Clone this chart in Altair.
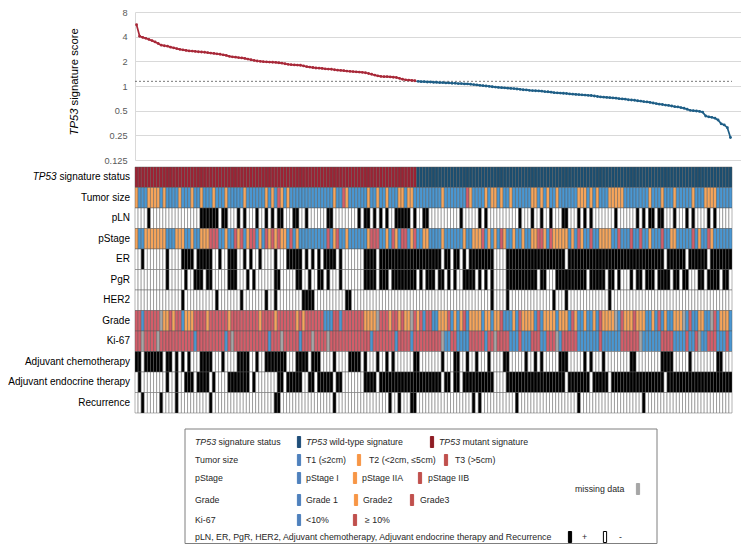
import altair as alt
import pandas as pd

# ---------------- data ----------------
N = 193
N_MUT = 91
THRESHOLD = 1.14

SCORES_MUT = [
    5.60, 4.05, 3.92, 3.82, 3.70, 3.58, 3.45, 3.30, 3.15, 3.10,
    3.06, 2.98, 2.92, 2.86, 2.80, 2.76, 2.72, 2.68, 2.67, 2.64,
    2.62, 2.60, 2.58, 2.55, 2.52, 2.50, 2.47, 2.44, 2.40, 2.36,
    2.30, 2.27, 2.25, 2.22, 2.20, 2.17, 2.13, 2.09, 2.05, 2.02,
    2.00, 1.98, 1.97, 1.96, 1.95, 1.94, 1.92, 1.90, 1.87, 1.84,
    1.82, 1.81, 1.80, 1.79, 1.76, 1.72, 1.70, 1.68, 1.66, 1.65,
    1.64, 1.62, 1.61, 1.60, 1.58, 1.56, 1.55, 1.54, 1.52, 1.51,
    1.50, 1.49, 1.48, 1.47, 1.45, 1.42, 1.39, 1.36, 1.33, 1.31,
    1.30, 1.30, 1.29, 1.28, 1.27, 1.24, 1.21, 1.19, 1.18, 1.17,
    1.16,
]
SCORES_WT = [
    1.14, 1.13, 1.13, 1.12, 1.12, 1.11, 1.11, 1.10, 1.10, 1.09,
    1.09, 1.08, 1.08, 1.07, 1.07, 1.06, 1.06, 1.05, 1.04, 1.03,
    1.02, 1.01, 1.00, 0.99, 0.98, 0.97, 0.96, 0.955, 0.95, 0.94,
    0.935, 0.93, 0.92, 0.91, 0.90, 0.895, 0.885, 0.88, 0.875, 0.87,
    0.865, 0.855, 0.85, 0.84, 0.83, 0.825, 0.82, 0.815, 0.81, 0.80,
    0.795, 0.79, 0.785, 0.78, 0.775, 0.77, 0.765, 0.755, 0.745, 0.735,
    0.73, 0.725, 0.72, 0.715, 0.71, 0.70, 0.695, 0.69, 0.68, 0.675,
    0.67, 0.66, 0.655, 0.645, 0.64, 0.63, 0.62, 0.61, 0.60, 0.595,
    0.585, 0.58, 0.57, 0.56, 0.555, 0.545, 0.535, 0.52, 0.505, 0.50,
    0.495, 0.49, 0.48, 0.43, 0.42, 0.415, 0.405, 0.385, 0.345, 0.335,
    0.31, 0.235,
]
Y_TICKS = [0.125, 0.25, 0.5, 1, 2, 4, 8]

ROWS = ["TP53 signature status", "Tumor size", "pLN", "pStage", "ER", "PgR",
        "HER2", "Grade", "Ki-67", "Adjuvant chemotherapy",
        "Adjuvant endocrine therapy", "Recurrence"]

# column spans (first, last) per category
STATUS_MUT = [(0, 90)]
TUMOR_T2 = [(0, 0), (4, 4), (5, 7), (9, 9), (14, 14), (18, 18), (21, 21), (25, 25), (29, 29),
            (35, 35), (42, 42), (44, 44), (47, 47), (49, 49), (64, 64), (68, 68), (75, 75),
            (78, 78), (81, 81), (85, 86), (88, 89), (99, 99), (108, 108), (113, 113),
            (115, 116), (118, 118), (121, 121), (128, 129), (131, 131), (133, 133), (136, 136),
            (143, 145), (147, 147), (149, 149), (153, 157), (166, 166), (170, 170), (174, 174),
            (180, 180), (184, 187)]
TUMOR_T3 = [(46, 46), (67, 67), (107, 107)]
PLN_POS = [(4, 4), (21, 26), (28, 29), (33, 33), (35, 35), (39, 39), (42, 42), (44, 44),
           (46, 47), (51, 52), (55, 55), (62, 63), (72, 72), (74, 75), (77, 77), (79, 79),
           (81, 81), (84, 88), (90, 90), (93, 94), (105, 105), (111, 111), (113, 113),
           (124, 124), (128, 128), (131, 131), (134, 134), (138, 139), (143, 143), (145, 145),
           (147, 147), (155, 155), (162, 162), (164, 164), (166, 167), (169, 170), (174, 174),
           (178, 178), (180, 180), (185, 185), (187, 187)]
PSTAGE_IIA = [(0, 0), (3, 9), (13, 15), (18, 18), (21, 23), (29, 29), (33, 33), (36, 36),
              (40, 40), (43, 43), (45, 45), (47, 48), (52, 52), (64, 64), (68, 68), (75, 75),
              (81, 81), (84, 84), (89, 89), (93, 94), (99, 99), (106, 106), (109, 111),
              (114, 114), (116, 116), (119, 119), (122, 122), (125, 125), (128, 129),
              (132, 132), (135, 139), (141, 141), (144, 144), (150, 153), (166, 166),
              (173, 174), (182, 182), (186, 186)]
PSTAGE_IIB = [(24, 26), (32, 32), (34, 34), (37, 38), (42, 42), (44, 44), (46, 46), (50, 50),
              (62, 62), (65, 65), (76, 78), (83, 83), (86, 87), (90, 90), (112, 112),
              (118, 118), (130, 131), (134, 134), (143, 143), (147, 147), (156, 156),
              (160, 160), (163, 163), (170, 170), (180, 180), (185, 185)]
ER_POS = [(2, 2), (10, 10), (15, 18), (20, 24), (27, 27), (30, 32), (35, 35), (37, 37),
          (40, 40), (45, 45), (49, 53), (55, 55), (57, 57), (59, 59), (61, 64), (66, 66),
          (74, 77), (79, 98), (100, 101), (103, 104), (106, 106), (108, 115), (120, 138),
          (140, 170), (172, 177), (179, 184), (186, 192)]
PGR_POS = [(10, 10), (16, 16), (19, 21), (23, 24), (30, 32), (36, 36), (38, 38), (45, 46),
           (52, 53), (56, 56), (59, 60), (62, 62), (66, 66), (74, 77), (79, 81), (83, 90),
           (92, 92), (94, 96), (98, 99), (101, 101), (103, 103), (106, 109), (111, 111),
           (113, 113), (115, 115), (120, 129), (131, 132), (136, 145), (147, 151),
           (153, 154), (156, 156), (160, 160), (162, 163), (165, 167), (169, 172),
           (174, 175), (177, 178), (182, 183), (185, 188), (190, 191)]
HER2_POS = [(15, 15), (26, 26), (34, 34), (42, 42), (45, 45), (54, 57), (68, 69), (115, 115),
            (120, 120), (135, 135), (139, 139), (153, 153)]
GRADE_1 = [(2, 2), (15, 15), (61, 63), (66, 66), (93, 93), (96, 192)]
GRADE_2 = [(9, 10), (12, 12), (16, 18), (23, 23), (30, 30), (40, 40), (45, 45), (52, 52),
           (54, 54), (74, 77), (82, 82), (85, 85), (87, 88), (91, 91), (98, 100), (103, 103),
           (105, 105), (108, 111), (113, 114), (116, 117), (122, 122), (125, 128),
           (132, 135), (137, 139), (142, 142), (145, 145), (148, 148), (151, 154),
           (158, 160), (162, 164), (167, 167), (171, 171), (174, 176), (182, 183), (189, 191)]
GRADE_3 = [(101, 101), (106, 106), (118, 118), (124, 124), (130, 130), (141, 141), (150, 150),
           (157, 157), (161, 161), (169, 169), (179, 179), (187, 187)]
GRADE_NA = [(8, 8), (78, 78), (89, 89), (155, 155), (177, 177), (186, 186)]
KI67_LOW = [(19, 19), (29, 29), (43, 43), (53, 53), (76, 76), (84, 84), (89, 89), (99, 192)]
KI67_HIGH = [(102, 103), (108, 112), (114, 120), (124, 124), (128, 130), (133, 135),
             (138, 142), (150, 150), (157, 163), (170, 173), (178, 178), (181, 181),
             (185, 187), (191, 191)]
KI67_NA = [(2, 2), (7, 7), (31, 31), (47, 47), (57, 57), (62, 62), (99, 99), (116, 116),
           (136, 136), (163, 163), (182, 182)]
CHEMO_POS = [(0, 1), (3, 8), (10, 11), (13, 13), (15, 15), (17, 17), (21, 24), (28, 28),
             (33, 36), (39, 39), (42, 48), (52, 55), (57, 59), (64, 64), (69, 72), (74, 74),
             (78, 78), (81, 81), (83, 83), (90, 91), (99, 99), (103, 104), (107, 107),
             (110, 110), (114, 114), (119, 120), (126, 126), (129, 129), (131, 131),
             (137, 139), (145, 145), (147, 147), (151, 151), (160, 161), (170, 173),
             (179, 179), (188, 189)]
ENDO_POS = [(1, 1), (10, 10), (13, 13), (16, 18), (20, 23), (25, 25), (30, 36), (38, 38),
            (46, 47), (49, 53), (56, 57), (59, 63), (65, 66), (74, 77), (79, 98), (100, 101),
            (103, 104), (106, 115), (120, 138), (140, 146), (148, 152), (154, 170), (172, 192)]
RECUR_POS = [(2, 2), (8, 8), (13, 13), (24, 24), (45, 46), (64, 64), (82, 82), (85, 85),
             (89, 90), (109, 109), (111, 111), (123, 123), (143, 143), (164, 164)]

# ---------------- styling ----------------
FONT = "Liberation Sans"
LINE_RED = "#A82838"
LINE_BLUE = "#1E5E86"
CELL = {"mut": "#9D2233", "wt": "#1B4E70", "c1": "#4A97D2", "c2": "#F6A55B",
        "c3": "#D45E6A", "na": "#A6A6A6", "pos": "#000000", "neg": "#FFFFFF"}

HM_W = 597
LINE_W = 606
LINE_H = 148
HM_H = 246
LEG_H = 130
COLW = HM_W / N
XMAX = -0.5 + LINE_W / COLW
LABEL_GAP = -5


def build(default, layers):
    vals = [default] * N
    for code, spans in layers:
        for a, b in spans:
            for i in range(a, b + 1):
                vals[i] = code
    return vals


row_codes = {
    "TP53 signature status": build("wt", [("mut", STATUS_MUT)]),
    "Tumor size": build("c1", [("c2", TUMOR_T2), ("c3", TUMOR_T3)]),
    "pLN": build("neg", [("pos", PLN_POS)]),
    "pStage": build("c1", [("c2", PSTAGE_IIA), ("c3", PSTAGE_IIB)]),
    "ER": build("neg", [("pos", ER_POS)]),
    "PgR": build("neg", [("pos", PGR_POS)]),
    "HER2": build("neg", [("pos", HER2_POS)]),
    "Grade": build("c3", [("c1", GRADE_1), ("c2", GRADE_2), ("c3", GRADE_3), ("na", GRADE_NA)]),
    "Ki-67": build("c3", [("c1", KI67_LOW), ("c3", KI67_HIGH), ("na", KI67_NA)]),
    "Adjuvant chemotherapy": build("neg", [("pos", CHEMO_POS)]),
    "Adjuvant endocrine therapy": build("neg", [("pos", ENDO_POS)]),
    "Recurrence": build("neg", [("pos", RECUR_POS)]),
}

recs = []
for r in ROWS:
    for i, code in enumerate(row_codes[r]):
        recs.append({"row": r, "x0": i - 0.5, "x1": i + 0.5, "fillc": CELL[code]})
hm_df = pd.DataFrame(recs)

# ---------------- line chart ----------------
mut_df = pd.DataFrame({"idx": list(range(N_MUT)), "score": SCORES_MUT})
wt_df = pd.DataFrame({"idx": list(range(N_MUT, N)), "score": SCORES_WT})

xsc = alt.Scale(domain=[-0.5, XMAX], nice=False, zero=False)
ysc = alt.Scale(type="log", base=2, domain=[0.125, 8], nice=False)
yaxis = alt.Axis(values=Y_TICKS, format="~g", title=None, ticks=False,
                 grid=True, gridColor="#d9d9d9", gridWidth=1,
                 domainColor="#d9d9d9", labelColor="#595959",
                 labelFontSize=9.2, labelPadding=8, labelFont=FONT)


def series(df, col):
    b = alt.Chart(df).encode(
        x=alt.X("idx:Q", scale=xsc, axis=None),
        y=alt.Y("score:Q", scale=ysc, axis=yaxis),
    )
    return [b.mark_line(strokeWidth=1.7, color=col),
            b.mark_circle(size=8, opacity=1, color=col)]


thr = alt.Chart(pd.DataFrame({"y": [THRESHOLD], "x0": [-0.5], "x1": [N - 0.5]})).mark_rule(
    strokeDash=[2, 2], color="#555555", strokeWidth=0.8
).encode(x=alt.X("x0:Q", scale=xsc, axis=None), x2="x1:Q",
         y=alt.Y("y:Q", scale=ysc, axis=yaxis))

ytitle_it = alt.Chart(pd.DataFrame({"t": ["TP53"]})).mark_text(
    angle=270, align="left", baseline="middle", fontSize=11.3, fontStyle="italic",
    font=FONT, color="#000000"
).encode(x=alt.value(-60), y=alt.value(123.5), text="t:N")
ytitle = alt.Chart(pd.DataFrame({"t": ["signature score"]})).mark_text(
    angle=270, align="left", baseline="middle", fontSize=11.3, font=FONT, color="#000000"
).encode(x=alt.value(-60), y=alt.value(93.4), text="t:N")

top = alt.layer(thr, *series(mut_df, LINE_RED), *series(wt_df, LINE_BLUE),
                ytitle_it, ytitle).properties(width=LINE_W, height=LINE_H)

# ---------------- heatmap ----------------
hx = alt.Scale(domain=[-0.5, N - 0.5], nice=False, zero=False)
hy = alt.Scale(domain=ROWS, paddingInner=0, paddingOuter=0)
rects = alt.Chart(hm_df).mark_rect(stroke="#555555", strokeWidth=0.45).encode(
    x=alt.X("x0:Q", scale=hx, axis=None),
    x2="x1:Q",
    y=alt.Y("row:N", scale=hy, axis=None),
    fill=alt.Fill("fillc:N", scale=None),
)
labels = ["signature status"] + ROWS[1:]
lab = alt.Chart(pd.DataFrame({"row": ROWS, "txt": labels})).mark_text(
    align="right", baseline="middle", fontSize=10, font=FONT, fontWeight="normal",
    color="#000000"
).encode(x=alt.value(LABEL_GAP), y=alt.Y("row:N", scale=hy, axis=None), text="txt:N")
lab_it = alt.Chart(pd.DataFrame({"row": [ROWS[0]], "txt": ["TP53"]})).mark_text(
    align="right", baseline="middle", fontSize=10, font=FONT, fontStyle="italic",
    fontWeight="normal", color="#000000"
).encode(x=alt.value(LABEL_GAP - 73.4), y=alt.Y("row:N", scale=hy, axis=None), text="txt:N")
heat = alt.layer(rects, lab, lab_it).properties(width=HM_W, height=HM_H)

# ---------------- legend panel ----------------
LY = [28, 46, 64, 86, 106, 123]
LY_MISS = 75
LEG_BLUE, LEG_ORANGE, LEG_RED = "#4F81BD", "#F79646", "#C0504D"

leg_text = pd.DataFrame([
    (83.5, LY[0], "signature status"),
    (194.5, LY[0], "wild-type signature"),
    (327.5, LY[0], "mutant signature"),
    (60, LY[1], "Tumor size"), (171, LY[1], "T1 (≤2cm)"), (234, LY[1], "T2 (<2cm, ≤5cm)"),
    (320, LY[1], "T3 (>5cm)"),
    (60, LY[2], "pStage"), (171, LY[2], "pStage I"), (227, LY[2], "pStage IIA"),
    (293, LY[2], "pStage IIB"),
    (60, LY[3], "Grade"), (171, LY[3], "Grade 1"), (228, LY[3], "Grade2"), (285, LY[3], "Grade3"),
    (60, LY[4], "Ki-67"), (171, LY[4], "<10%"), (230, LY[4], "≥ 10%"),
    (60, LY[5], "pLN, ER, PgR, HER2, Adjuvant chemotherapy, Adjuvant endocrine therapy and Recurrence"),
    (447, LY[5], "+"), (484, LY[5], "-"),
    (440, LY_MISS, "missing data"),
], columns=["lx", "ly", "t"])
leg_it = pd.DataFrame([(60, LY[0], "TP53"), (171, LY[0], "TP53"), (304, LY[0], "TP53")],
                      columns=["lx", "ly", "t"])
sw = [
    (164, LY[0], "#1F4E79", "#1F4E79"), (297, LY[0], "#8E1C24", "#8E1C24"),
    (164, LY[1], LEG_BLUE, LEG_BLUE), (224, LY[1], LEG_ORANGE, LEG_ORANGE), (311, LY[1], LEG_RED, LEG_RED),
    (164, LY[2], LEG_BLUE, LEG_BLUE), (220, LY[2], LEG_ORANGE, LEG_ORANGE), (285, LY[2], LEG_RED, LEG_RED),
    (164, LY[3], LEG_BLUE, LEG_BLUE), (221, LY[3], LEG_ORANGE, LEG_ORANGE), (277, LY[3], LEG_RED, LEG_RED),
    (164, LY[4], LEG_BLUE, LEG_BLUE), (220, LY[4], LEG_RED, LEG_RED),
    (435, LY[5], "#000000", "#000000"), (470, LY[5], "#FFFFFF", "#000000"),
    (503, LY_MISS, "#A6A6A6", "#A6A6A6"),
]
sw_df = pd.DataFrame({
    "x0": [s[0] - 1.6 for s in sw], "x1": [s[0] + 1.6 for s in sw],
    "y0": [s[1] - 5.5 for s in sw], "y1": [s[1] + 5.5 for s in sw],
    "fillc": [s[2] for s in sw], "strokec": [s[3] for s in sw],
})

lxs = alt.Scale(domain=[0, HM_W], nice=False, zero=False)
lys = alt.Scale(domain=[0, LEG_H], nice=False, zero=False, reverse=True)

box = alt.Chart(pd.DataFrame({"x0": [50], "x1": [522], "y0": [15], "y1": [129.5]})).mark_rect(
    fill="#FFFFFF", fillOpacity=0, stroke="#7F7F7F", strokeWidth=1
).encode(x=alt.X("x0:Q", scale=lxs, axis=None), x2="x1:Q",
         y=alt.Y("y0:Q", scale=lys, axis=None), y2="y1:Q")
swatch = alt.Chart(sw_df).mark_rect(strokeWidth=1).encode(
    x=alt.X("x0:Q", scale=lxs, axis=None), x2="x1:Q",
    y=alt.Y("y0:Q", scale=lys, axis=None), y2="y1:Q",
    fill=alt.Fill("fillc:N", scale=None), stroke=alt.Stroke("strokec:N", scale=None),
)
ltext = alt.Chart(leg_text).mark_text(
    align="left", baseline="middle", fontSize=8.8, font=FONT, color="#262626"
).encode(x=alt.X("lx:Q", scale=lxs, axis=None), y=alt.Y("ly:Q", scale=lys, axis=None), text="t:N")
ltext_it = alt.Chart(leg_it).mark_text(
    align="left", baseline="middle", fontSize=8.8, font=FONT, fontStyle="italic", color="#262626"
).encode(x=alt.X("lx:Q", scale=lxs, axis=None), y=alt.Y("ly:Q", scale=lys, axis=None), text="t:N")

legend = alt.layer(box, swatch, ltext, ltext_it).properties(width=HM_W, height=LEG_H)

chart = alt.vconcat(
    top, heat, legend, spacing=0, padding=0,
).resolve_scale(
    fill="independent", stroke="independent"
).configure(font=FONT).configure_view(stroke=None)

chart.save("out.html", embed_options={"renderer": "svg", "actions": False})
